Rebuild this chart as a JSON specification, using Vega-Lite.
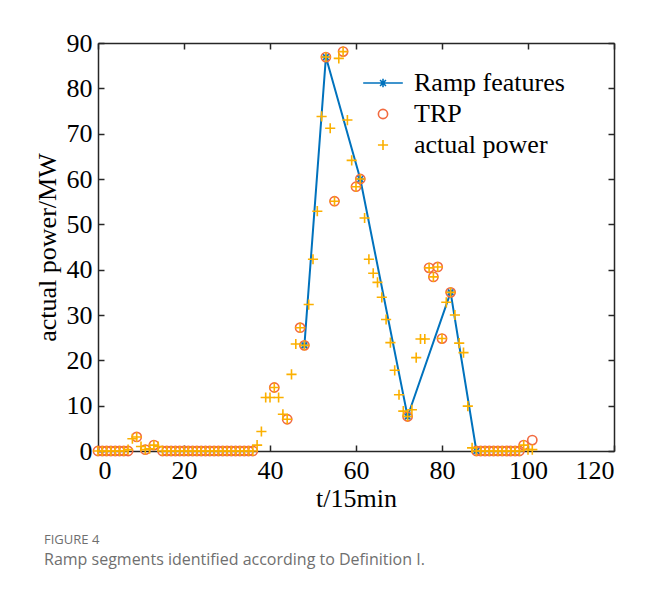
{
  "$schema": "https://vega.github.io/schema/vega-lite/v6.json",
  "width": 516,
  "height": 408,
  "padding": {"left": 34, "top": 30, "right": 20, "bottom": 20},
  "background": "white",
  "config": {
    "view": {"stroke": null},
    "axis": {
      "labelFont": "Liberation Serif", "labelFontSize": 26, "labelColor": "#000000",
      "titleFont": "Liberation Serif", "titleFontSize": 26, "titleFontWeight": "normal", "titleColor": "#000000",
      "domainColor": "#262626", "domainWidth": 1.5, "tickColor": "#262626", "tickWidth": 1.5,
      "tickSize": -6, "grid": false
    }
  },
  "title": {
    "text": "FIGURE 4",
    "subtitle": "Ramp segments identified according to Definition I.",
    "orient": "bottom", "anchor": "start", "dx": 10, "offset": 23,
    "font": "Open Sans", "fontSize": 13, "fontWeight": "normal", "color": "#6f6f6f",
    "subtitleFont": "Open Sans", "subtitleFontSize": 16, "subtitleColor": "#6f6f6f", "subtitlePadding": 5
  },
  "data": {"values": [
    {"t":48,"p":23.3,"s":"Ramp features"},{"t":53,"p":86.9,"s":"Ramp features"},{"t":61,"p":60,"s":"Ramp features"},
    {"t":72,"p":7.6,"s":"Ramp features"},{"t":82,"p":35,"s":"Ramp features"},{"t":88,"p":0,"s":"Ramp features"},

    {"t":0,"p":0,"s":"TRP"},{"t":1,"p":0,"s":"TRP"},{"t":2,"p":0,"s":"TRP"},{"t":3,"p":0,"s":"TRP"},{"t":4,"p":0,"s":"TRP"},
    {"t":5,"p":0,"s":"TRP"},{"t":6,"p":0,"s":"TRP"},{"t":7,"p":0,"s":"TRP"},{"t":9,"p":3.1,"s":"TRP"},{"t":11,"p":0.3,"s":"TRP"},
    {"t":13,"p":1.3,"s":"TRP"},{"t":15,"p":0,"s":"TRP"},{"t":16,"p":0,"s":"TRP"},{"t":17,"p":0,"s":"TRP"},{"t":18,"p":0,"s":"TRP"},
    {"t":19,"p":0,"s":"TRP"},{"t":20,"p":0,"s":"TRP"},{"t":21,"p":0,"s":"TRP"},{"t":22,"p":0,"s":"TRP"},{"t":23,"p":0,"s":"TRP"},
    {"t":24,"p":0,"s":"TRP"},{"t":25,"p":0,"s":"TRP"},{"t":26,"p":0,"s":"TRP"},{"t":27,"p":0,"s":"TRP"},{"t":28,"p":0,"s":"TRP"},
    {"t":29,"p":0,"s":"TRP"},{"t":30,"p":0,"s":"TRP"},{"t":31,"p":0,"s":"TRP"},{"t":32,"p":0,"s":"TRP"},{"t":33,"p":0,"s":"TRP"},
    {"t":34,"p":0,"s":"TRP"},{"t":35,"p":0,"s":"TRP"},{"t":36,"p":0,"s":"TRP"},{"t":41,"p":14,"s":"TRP"},{"t":44,"p":7,"s":"TRP"},
    {"t":47,"p":27.2,"s":"TRP"},{"t":48,"p":23.3,"s":"TRP"},{"t":53,"p":86.9,"s":"TRP"},{"t":55,"p":55.1,"s":"TRP"},{"t":57,"p":88.1,"s":"TRP"},
    {"t":60,"p":58.3,"s":"TRP"},{"t":61,"p":60,"s":"TRP"},{"t":72,"p":7.6,"s":"TRP"},{"t":77,"p":40.4,"s":"TRP"},{"t":78,"p":38.4,"s":"TRP"},
    {"t":79,"p":40.6,"s":"TRP"},{"t":80,"p":24.8,"s":"TRP"},{"t":82,"p":35,"s":"TRP"},{"t":88,"p":0,"s":"TRP"},{"t":89,"p":0,"s":"TRP"},
    {"t":90,"p":0,"s":"TRP"},{"t":91,"p":0,"s":"TRP"},{"t":92,"p":0,"s":"TRP"},{"t":93,"p":0,"s":"TRP"},{"t":94,"p":0,"s":"TRP"},
    {"t":95,"p":0,"s":"TRP"},{"t":96,"p":0,"s":"TRP"},{"t":97,"p":0,"s":"TRP"},{"t":98,"p":0,"s":"TRP"},{"t":99,"p":1.3,"s":"TRP"},
    {"t":101,"p":2.4,"s":"TRP"},

    {"t":0,"p":0,"s":"actual power"},{"t":1,"p":0,"s":"actual power"},{"t":2,"p":0,"s":"actual power"},{"t":3,"p":0,"s":"actual power"},
    {"t":4,"p":0,"s":"actual power"},{"t":5,"p":0,"s":"actual power"},{"t":6,"p":0,"s":"actual power"},{"t":7,"p":0.3,"s":"actual power"},
    {"t":8,"p":2.7,"s":"actual power"},{"t":9,"p":3.1,"s":"actual power"},{"t":10,"p":1.0,"s":"actual power"},{"t":11,"p":0.3,"s":"actual power"},
    {"t":12,"p":0.5,"s":"actual power"},{"t":13,"p":1.3,"s":"actual power"},{"t":14,"p":1.0,"s":"actual power"},{"t":15,"p":0,"s":"actual power"},
    {"t":16,"p":0,"s":"actual power"},{"t":17,"p":0,"s":"actual power"},{"t":18,"p":0,"s":"actual power"},{"t":19,"p":0,"s":"actual power"},
    {"t":20,"p":0,"s":"actual power"},{"t":21,"p":0,"s":"actual power"},{"t":22,"p":0,"s":"actual power"},{"t":23,"p":0,"s":"actual power"},
    {"t":24,"p":0,"s":"actual power"},{"t":25,"p":0,"s":"actual power"},{"t":26,"p":0,"s":"actual power"},{"t":27,"p":0,"s":"actual power"},
    {"t":28,"p":0,"s":"actual power"},{"t":29,"p":0,"s":"actual power"},{"t":30,"p":0,"s":"actual power"},{"t":31,"p":0,"s":"actual power"},
    {"t":32,"p":0,"s":"actual power"},{"t":33,"p":0,"s":"actual power"},{"t":34,"p":0,"s":"actual power"},{"t":35,"p":0,"s":"actual power"},
    {"t":36,"p":0,"s":"actual power"},{"t":37,"p":1.3,"s":"actual power"},{"t":38,"p":4.3,"s":"actual power"},{"t":39,"p":11.8,"s":"actual power"},
    {"t":40,"p":11.8,"s":"actual power"},{"t":41,"p":14,"s":"actual power"},{"t":42,"p":11.8,"s":"actual power"},{"t":43,"p":8.1,"s":"actual power"},
    {"t":44,"p":7.0,"s":"actual power"},{"t":45,"p":16.9,"s":"actual power"},{"t":46,"p":23.6,"s":"actual power"},{"t":47,"p":27.2,"s":"actual power"},
    {"t":48,"p":23.3,"s":"actual power"},{"t":49,"p":32.3,"s":"actual power"},{"t":50,"p":42.3,"s":"actual power"},{"t":51,"p":52.9,"s":"actual power"},
    {"t":52,"p":73.8,"s":"actual power"},{"t":53,"p":86.9,"s":"actual power"},{"t":54,"p":71.2,"s":"actual power"},{"t":55,"p":55.1,"s":"actual power"},
    {"t":56,"p":86.6,"s":"actual power"},{"t":57,"p":88.1,"s":"actual power"},{"t":58,"p":73,"s":"actual power"},{"t":59,"p":64.1,"s":"actual power"},
    {"t":60,"p":58.3,"s":"actual power"},{"t":61,"p":60,"s":"actual power"},{"t":62,"p":51.4,"s":"actual power"},{"t":63,"p":42.3,"s":"actual power"},
    {"t":64,"p":39.2,"s":"actual power"},{"t":65,"p":37.2,"s":"actual power"},{"t":66,"p":33.9,"s":"actual power"},{"t":67,"p":29,"s":"actual power"},
    {"t":68,"p":23.9,"s":"actual power"},{"t":69,"p":17.8,"s":"actual power"},{"t":70,"p":12.4,"s":"actual power"},{"t":71,"p":8.8,"s":"actual power"},
    {"t":72,"p":7.6,"s":"actual power"},{"t":73,"p":9.1,"s":"actual power"},{"t":74,"p":20.6,"s":"actual power"},{"t":75,"p":24.7,"s":"actual power"},
    {"t":76,"p":24.7,"s":"actual power"},{"t":77,"p":40.4,"s":"actual power"},{"t":78,"p":38.4,"s":"actual power"},{"t":79,"p":40.6,"s":"actual power"},
    {"t":80,"p":24.8,"s":"actual power"},{"t":81,"p":32.8,"s":"actual power"},{"t":82,"p":35,"s":"actual power"},{"t":83,"p":30,"s":"actual power"},
    {"t":84,"p":23.8,"s":"actual power"},{"t":85,"p":21.7,"s":"actual power"},{"t":86,"p":9.9,"s":"actual power"},{"t":87,"p":0.7,"s":"actual power"},
    {"t":88,"p":0,"s":"actual power"},{"t":89,"p":0,"s":"actual power"},{"t":90,"p":0,"s":"actual power"},{"t":91,"p":0,"s":"actual power"},
    {"t":92,"p":0,"s":"actual power"},{"t":93,"p":0,"s":"actual power"},{"t":94,"p":0,"s":"actual power"},{"t":95,"p":0,"s":"actual power"},
    {"t":96,"p":0,"s":"actual power"},{"t":97,"p":0,"s":"actual power"},{"t":98,"p":0,"s":"actual power"},{"t":99,"p":1.3,"s":"actual power"},
    {"t":100,"p":0.3,"s":"actual power"},{"t":101,"p":0.3,"s":"actual power"}
  ]},
  "layer": [
    {
      "transform": [{"filter": "datum.s === 'Ramp features'"}],
      "mark": {"type": "line", "color": "#0072BD", "strokeWidth": 2},
      "encoding": {
        "x": {"field": "t", "type": "quantitative", "scale": {"domain": [0, 120], "nice": false},
              "axis": {"orient": "top", "labels": false, "title": null, "values": [0,20,40,60,80,100,120]}},
        "y": {"field": "p", "type": "quantitative", "scale": {"domain": [0, 90], "nice": false},
              "axis": {"orient": "right", "labels": false, "title": null, "values": [0,10,20,30,40,50,60,70,80,90]}}
      }
    },
    {
      "mark": {"type": "point", "filled": false, "strokeWidth": 1.6, "size": 85, "opacity": 1},
      "encoding": {
        "x": {"field": "t", "type": "quantitative",
              "axis": {"orient": "bottom", "title": "t/15min", "values": [0,20,40,60,80,100,120], "labelPadding": 12, "titlePadding": 2}},
        "y": {"field": "p", "type": "quantitative",
              "axis": {"orient": "left", "title": "actual power/MW", "values": [0,10,20,30,40,50,60,70,80,90], "labelPadding": 12, "titlePadding": 6}},
        "color": {"field": "s", "type": "nominal",
                  "scale": {"domain": ["Ramp features", "TRP", "actual power"], "range": ["#0072BD", "#F26A3F", "#FBB000"]},
                  "legend": {"orient": "none", "legendX": 272, "legendY": 27, "title": null,
                             "labelFont": "Liberation Serif", "labelFontSize": 26, "labelColor": "#000000",
                             "labelOffset": 18, "rowPadding": 5, "symbolSize": 85, "symbolStrokeWidth": 1.6, "padding": 0}},
        "shape": {"field": "s", "type": "nominal",
                  "condition": {"test": "datum.s === 'Ramp features'", "value": "M-0.9,0H0.9M0,-0.9V0.9M-0.64,-0.64L0.64,0.64M-0.64,0.64L0.64,-0.64"},
                  "scale": {"domain": ["Ramp features", "TRP", "actual power"],
                            "range": ["M-4.3,0H4.3M-0.9,0H0.9M0,-0.9V0.9M-0.64,-0.64L0.64,0.64M-0.64,0.64L0.64,-0.64",
                                      "M1,0A1,1,0,1,1,-1,0A1,1,0,1,1,1,0Z",
                                      "M-1.1,0H1.1M0,-1.1V1.1"]},
                  "legend": {"orient": "none", "legendX": 272, "legendY": 27, "title": null,
                             "labelFont": "Liberation Serif", "labelFontSize": 26, "labelColor": "#000000",
                             "labelOffset": 18, "rowPadding": 5, "symbolSize": 85, "symbolStrokeWidth": 1.6, "padding": 0}}
      }
    }
  ],
  "resolve": {"axis": {"x": "independent", "y": "independent"}}
}
